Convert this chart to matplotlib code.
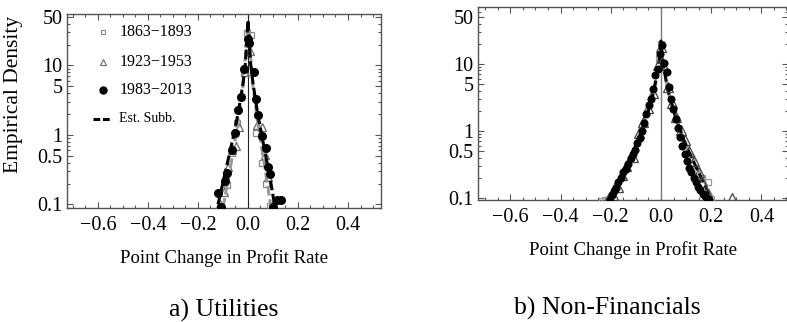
import matplotlib
matplotlib.use("Agg")
import matplotlib.pyplot as plt
from matplotlib.lines import Line2D
from matplotlib.ticker import FixedLocator, MultipleLocator, NullFormatter, FixedFormatter

plt.rcParams['font.family'] = ['Liberation Serif', 'DejaVu Serif']
plt.rcParams['axes.unicode_minus'] = True

# ---------------- Utilities ----------------
util_1863_x = [-0.108, -0.085, -0.062, -0.044, -0.028, -0.015, -0.005, 0.012, 0.033, 0.055, 0.071, 0.087]
util_1863_y = [0.09, 0.19, 0.55, 1.5, 3.55, 7.7, 29, 27.5, 1.06, 0.40, 0.195, 0.095]

util_1923_x = [-0.112, -0.096, -0.078, -0.062, -0.049, -0.035, -0.012, 0.0, 0.01, 0.035, 0.055, 0.068, 0.081, 0.1]
util_1923_y = [0.1, 0.15, 0.35, 0.6, 0.70, 1.32, 8, 22, 16, 1.39, 1.32, 0.52, 0.25, 0.1]

util_1983_x = [-0.121, -0.108, -0.092, -0.085, -0.065, -0.052, -0.039, -0.028, -0.015, 0.001, 0.006,
               0.023, 0.031, 0.039, 0.057, 0.071, 0.081, 0.088, 0.101, 0.115, 0.13]
util_1983_y = [0.145, 0.093, 0.22, 0.28, 0.61, 1.08, 2.29, 3.5, 8.8, 23.8, 21,
               8.1, 3.26, 1.94, 0.97, 0.64, 0.35, 0.27, 0.093, 0.116, 0.116]

util_fit_x = [-0.12, -0.09, -0.06, -0.04, -0.02, -0.01, 0.0, 0.01, 0.02, 0.04, 0.06, 0.09, 0.108]
util_fit_y = [0.1, 0.3, 0.9, 2.0, 5.5, 11, 45, 11, 5.5, 1.9, 0.8, 0.22, 0.09]

util_fit2_x = [-0.10, -0.07, -0.04, -0.02, 0.0, 0.02, 0.04, 0.07, 0.092]
util_fit2_y = [0.09, 0.35, 1.5, 5, 40, 5, 1.4, 0.3, 0.09]

# ---------------- Non-Financials ----------------
nf_1863_x = [-0.235, -0.225, -0.008, 0.0, 0.14, 0.165, 0.188, 0.2]
nf_1863_y = [0.09, 0.092, 12, 20, 0.25, 0.2, 0.175, 0.095]

nf_1923_x = [-0.215, -0.19, -0.17, -0.155, -0.14, -0.11, -0.087, -0.07, -0.05, -0.03, -0.01, 0.0,
             0.01, 0.028, 0.045, 0.06, 0.078, 0.096, 0.112, 0.13, 0.15, 0.165, 0.185, 0.282]
nf_1923_y = [0.09, 0.11, 0.145, 0.22, 0.30, 0.41, 0.92, 1.35, 2.2, 3.7, 9.5, 18,
             9.6, 4.5, 2.6, 1.6, 1.05, 0.73, 0.5, 0.36, 0.24, 0.17, 0.12, 0.1]

nf_1983_x = [-0.205, -0.197, -0.189, -0.181, -0.170, -0.160, -0.150, -0.141, -0.131, -0.121, -0.112,
             -0.103, -0.094, -0.085, -0.076, -0.067, -0.058, -0.049, -0.040, -0.031, -0.022, -0.013,
             -0.004, 0.004, 0.013, 0.022, 0.031, 0.040, 0.049, 0.058, 0.067, 0.076, 0.085, 0.094,
             0.103, 0.112, 0.121, 0.130, 0.139, 0.148, 0.157, 0.166, 0.175, 0.184, 0.193]
nf_1983_y = [0.09, 0.11, 0.125, 0.14, 0.17, 0.2, 0.24, 0.27, 0.32, 0.40, 0.45,
             0.52, 0.66, 0.78, 1.0, 1.3, 1.8, 2.4, 3.0, 4.3, 6.8, 8.5,
             14, 19, 10.5, 7.5, 4.6, 3.0, 2.1, 1.5, 1.1, 0.82, 0.6, 0.45,
             0.36, 0.28, 0.24, 0.2, 0.17, 0.145, 0.13, 0.115, 0.105, 0.098, 0.092]

nf_fit_x = [-0.215, -0.15, -0.1, -0.06, -0.03, -0.01, 0.0, 0.01, 0.03, 0.06, 0.1, 0.15, 0.205]
nf_fit_y = [0.09, 0.24, 0.6, 1.5, 3.8, 9, 22, 9, 3.8, 1.5, 0.6, 0.24, 0.09]

nf_fit2_x = [-0.22, -0.15, -0.1, -0.06, -0.03, -0.01, 0.0, 0.01, 0.03, 0.06, 0.1, 0.15, 0.212]
nf_fit2_y = [0.09, 0.26, 0.62, 1.5, 3.6, 8.5, 20, 8.5, 3.6, 1.5, 0.64, 0.26, 0.09]

ytick_vals = [0.1, 0.5, 1, 5, 10, 50]
ytick_labels = ["0.1", "0.5", "1", "5", "10", "50"]
xtick_vals = [-0.6, -0.4, -0.2, 0.0, 0.2, 0.4]
xtick_labels = ["\u22120.6", "\u22120.4", "\u22120.2", "0.0", "0.2", "0.4"]
legend_labels = ["1863\u22121893", "1923\u22121953", "1983\u22122013", "Est. Subb."]

W, H = 787, 322
fig = plt.figure(figsize=(W / 100, H / 100), dpi=100)

spine_col = "#555555"
sq_col = "#8a8a8a"
tri_col = "#6a6a6a"


def style_axes(ax, xlim, ylim):
    ax.set_xscale("linear")
    ax.set_yscale("log")
    ax.set_xlim(*xlim)
    ax.set_ylim(*ylim)
    ax.xaxis.set_major_locator(FixedLocator(xtick_vals))
    ax.xaxis.set_major_formatter(FixedFormatter(xtick_labels))
    ax.xaxis.set_minor_locator(MultipleLocator(0.05))
    ax.yaxis.set_major_locator(FixedLocator(ytick_vals))
    ax.yaxis.set_major_formatter(FixedFormatter(ytick_labels))
    minors = [m * 10 ** e for e in (-2, -1, 0, 1) for m in (2, 3, 4, 6, 7, 8, 9)]
    ax.yaxis.set_minor_locator(FixedLocator(minors))
    ax.yaxis.set_minor_formatter(NullFormatter())
    ax.tick_params(which="both", direction="in", top=True, right=True,
                   color=spine_col, width=0.8, labelsize=14.5)
    ax.tick_params(axis="x", which="both", pad=6)
    ax.tick_params(axis="y", which="both", pad=3)
    ax.tick_params(which="major", length=4.5)
    ax.tick_params(which="minor", length=2.5)
    for s in ax.spines.values():
        s.set_color(spine_col)
        s.set_linewidth(1.0)


def dash_line(ax, x, y, color):
    ax.plot(x, y, color=color, lw=2.2, dashes=(3.2, 1.2), solid_capstyle="butt",
            dash_capstyle="butt", zorder=4)


# ---- panel a ----
ax1 = fig.add_axes([67 / W, 1 - 208 / H, 314 / W, 194 / H])
style_axes(ax1, (-0.724, 0.532), (0.089, 55))
ax1.axvline(0, color="#222222", lw=0.8, zorder=2)
ax1.plot(util_1863_x, util_1863_y, ls="none", marker="s", ms=5, mfc="none", mec=sq_col, mew=0.9, zorder=3)
ax1.plot(util_1923_x, util_1923_y, ls="none", marker="^", ms=6, mfc="none", mec=tri_col, mew=0.9, zorder=3)
dash_line(ax1, util_fit2_x, util_fit2_y, "#9a9a9a")
dash_line(ax1, util_fit_x, util_fit_y, "black")
ax1.plot(util_1983_x, util_1983_y, ls="none", marker="o", ms=5.5, mfc="black", mec="black", zorder=5)
ax1.set_ylabel("Empirical Density", fontsize=15.5)
ax1.yaxis.set_label_coords(-0.14, 0.585)
ax1.set_xlabel("Point Change in Profit Rate", fontsize=13.5, labelpad=10)

# legend entries drawn in axes coordinates
lx, tx = 0.1137, 0.1666
ly = [0.907, 0.7526, 0.608, 0.459]
ax1.add_line(Line2D([lx], [ly[0]], transform=ax1.transAxes, ls="none", marker="s", ms=3.5,
                    mfc="none", mec=sq_col, mew=0.8))
ax1.add_line(Line2D([lx], [ly[1]], transform=ax1.transAxes, ls="none", marker="^", ms=4,
                    mfc="none", mec=tri_col, mew=0.8))
ax1.add_line(Line2D([lx], [ly[2]], transform=ax1.transAxes, ls="none", marker="o", ms=5,
                    mfc="black", mec="black"))
ax1.add_line(Line2D([lx - 0.03, lx + 0.03], [ly[3], ly[3]], transform=ax1.transAxes,
                    color="black", lw=2.2, dashes=(2.2, 0.9)))
for i, lab in enumerate(legend_labels):
    ax1.text(tx, ly[i], lab, transform=ax1.transAxes, ha="left", va="center",
             fontsize=11.5 if i < 3 else 10)

# ---- panel b ----
ax2 = fig.add_axes([478 / W, 1 - 200 / H, 310 / W, 193 / H])
style_axes(ax2, (-0.729, 0.506), (0.093, 71))
ax2.axvline(0, color="#777777", lw=1.0, zorder=2)
ax2.plot(nf_1863_x, nf_1863_y, ls="none", marker="s", ms=5, mfc="none", mec="#9a9a9a", mew=0.9, zorder=3)
dash_line(ax2, nf_fit2_x, nf_fit2_y, "#9a9a9a")
dash_line(ax2, nf_fit_x, nf_fit_y, "black")
ax2.plot(nf_1923_x, nf_1923_y, ls="none", marker="^", ms=7.5, mfc="none", mec="#444444", mew=0.9, zorder=5)
ax2.plot(nf_1983_x, nf_1983_y, ls="none", marker="o", ms=4.8, mfc="black", mec="black", zorder=5)
ax2.set_xlabel("Point Change in Profit Rate", fontsize=13.5, labelpad=10)

# captions
fig.text(224 / W, 1 - 310 / H, "a) Utilities", ha="center", va="center", fontsize=18.5)
fig.text(607 / W, 1 - 308 / H, "b) Non-Financials", ha="center", va="center", fontsize=18.5)

fig.savefig("out.png", dpi=100)
